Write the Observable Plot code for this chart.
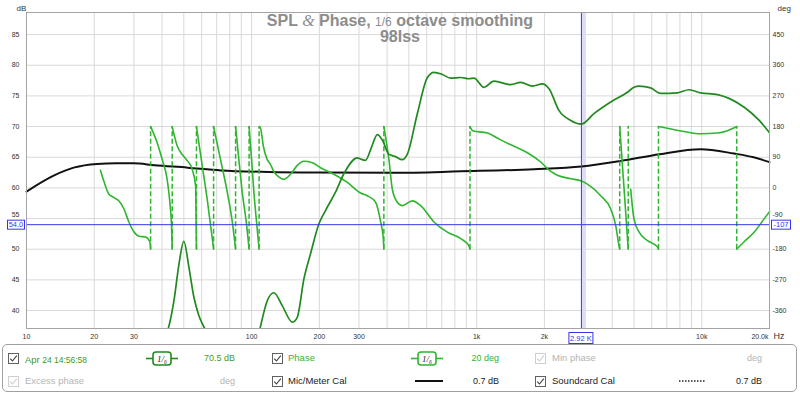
<!DOCTYPE html>
<html><head><meta charset="utf-8">
<script src="https://cdn.jsdelivr.net/npm/d3@7"></script>
<script src="https://cdn.jsdelivr.net/npm/@observablehq/plot@0.6"></script>
<style>
body{margin:0;background:#fff;font-family:"Liberation Sans",Arial,sans-serif;}
#wrap{position:relative;width:800px;height:394px;overflow:hidden;background:#fff;}
#chart{position:absolute;left:0;top:0;}
#legend{position:absolute;left:2px;top:344px;width:795px;height:48px;border:1px solid #a0a0a0;border-radius:5px;box-sizing:border-box;}
.lg{position:absolute;white-space:nowrap;line-height:12px;}
.lg svg{display:block;}
</style></head><body><div id="wrap"><div id="chart"></div><div id="legend"></div></div>
<script>
// ---------------- data ----------------
const micFreq = [10,13.2,16.2,20.6,25,30,37,52,73,120,200,430,850,1800,2920,4370,6500,9900,13900,17000,20000];
const micDb   = [59.4,62.0,63.3,63.9,64.0,64.0,63.7,63.3,62.85,62.6,62.5,62.45,62.7,63.05,63.5,64.4,65.5,66.3,65.6,65.0,64.2];

const splFreq = [41.5,42.6,45.2,47.6,50,52.7,55.4,58.3,62,63.5,85,107,108.9,117.4,125.6,136.8,151.7,159.6,170.9,182.9,199,213,236,257,295,305,321,340,362,381,407,436,467,492,545,604,646,704,766,849,925,973,1078,1194,1416,1570,1768,1959,2097,2323,2618,2920,3318,3941,4677,5000,5268,5929,6574,7805,8783,9899,11744,13222,15500,18000,20000];
const splDb   = [35.8,37.0,41.6,47.6,51.3,47.0,42.2,39.2,37.0,36.2,NaN,35.8,37.0,41.6,42.9,40.8,38.1,38.9,45.2,49.3,54.1,56.3,59.3,62.3,64.9,64.7,64.5,66.5,68.7,67.8,65.5,65.1,64.6,65.5,72.1,78.0,78.85,78.5,77.9,78.0,77.8,77.9,76.4,77.4,76.85,77.2,76.6,76.95,76.15,72.6,71.0,70.4,72.1,74.0,75.6,76.4,76.6,76.3,75.4,75.5,76.0,75.5,75.2,74.6,73.1,71.0,69.0];

const phaseFreq = [
  21.3,22.06,23.2,24.4,25.7,27.1,28.5,30.0,31.6,33.8,35.3,35.6,
  35.6,38.1,40.1,41.9,42.9,43.6,44.1,44.4,
  44.4,46.8,49.2,51.8,54.5,56.4,56.7,56.9,
  56.9,60.4,63.5,66.9,67.8,
  67.8,72.8,78,82.1,84.9,
  84.9,87.8,90.9,94.7,97.5,
  97.5,100,102.4,105.2,108,
  108,109.6,113,117.4,121,125.6,132,139.2,149,159.6,170.8,186.2,202.6,232.2,266.3,305,326.6,355.6,374.5,384.8,387,
  387,407.6,422,444,467.6,517.9,563.8,646,741,849,920,934,
  934,960,1116,1278,1466,1680,1925,2100,2283,2618,2920,3104,3556,3941,4147,4290,4321,
  4321,4515,4714,
  4714,4835,5000,5270,5720,6350,6422,
  6422,7040,8343,9899,11744,13006,14305,
  14305,15417,17079,18920,20000];
const phaseDeg = [
  52,20,-18,-28,-38,-62,-100,-129,-142,-144,-158,-180,
  180,132,83,35,-13,-62,-110,-180,
  180,122,98,80,54,6,-100,-180,
  180,64,-33,-149,-180,
  180,83,-13,-100,-180,
  180,83,-13,-100,-180,
  180,83,-13,-100,-180,
  180,175,120,83,70,48,32,25,40,66,78,74,59,40,16,-15,-23,-42,-100,-149,-180,
  180,83,-4,-42,-52,-38,-52,-100,-130,-149,-168,-180,
  180,168,161,141,122,103,76,52,37,27,20,11,-23,-62,-110,-170,-180,
  180,0,-180,
  180,-4,-91,-130,-154,-173,-180,
  180,175,165.5,159,161,168,180,
  -180,-158,-130,-91,-70];
const wrapFreq = [35.6,44.4,56.9,67.8,84.9,97.5,108,387,934,4321,4714,6422,14305];

const dbTicks = [40,45,50,55,60,65,70,75,80,85];
const degTicks = [-360,-270,-180,-90,0,90,180,270,360,450];
const freqGrid = [20,30,40,50,60,70,80,90,100,200,300,400,500,600,700,800,900,1000,2000,3000,4000,5000,6000,7000,8000,9000,10000];
const freqLabels = [10,20,30,40,50,60,70,80,100,200,300,400,500,600,800,1000,2000,4000,5000,6000,7000,8000,10000];
const cursorFreq = 2920, cursorDb = 54.0, cursorDeg = -107;

// ---------------- build ----------------
const splColor = "#21891f", phaseColor = "#2fb52f";
const degToDb = d => 60 + d / 18;
const micRows = micFreq.map((f, i) => ({f, v: micDb[i]}));
const splRows = splFreq.map((f, i) => ({f, v: splDb[i]}));
let seg = 0;
const phaseRows = phaseFreq.map((f, i) => {
  if (i > 0 && Math.abs(phaseDeg[i] - phaseDeg[i-1]) > 180) seg++;
  return {f, v: degToDb(phaseDeg[i]), seg};
});
const fmtF = d => d >= 1000 ? (d/1000) + "k" : String(d);
// tick labels next to the cursor read-outs sit a little higher (partly hidden in the original)
const nearCursor = v => Math.abs(v - cursorDb) < 2;
const leftMain = dbTicks.filter(v => !nearCursor(v)), leftNear = dbTicks.filter(nearCursor);
const rightAll = degTicks.map(degToDb);
const rightMain = rightAll.filter(v => !nearCursor(v)), rightNear = rightAll.filter(nearCursor);

const plot = Plot.plot({
  width: 800, height: 344,
  marginLeft: 26, marginRight: 31, marginTop: 12, marginBottom: 16,
  x: {type: "log", domain: [10, 20000], label: null},
  y: {domain: [37.07, 88.6], label: null},
  style: {fontFamily: "Liberation Sans, Arial, sans-serif", fontSize: "7px", color: "#333", background: "#fff", overflow: "visible"},
  marks: [
    Plot.ruleY(dbTicks, {stroke: "#d9d9d9", strokeWidth: 1}),
    Plot.ruleX(freqGrid, {stroke: "#d9d9d9", strokeWidth: 1}),
    Plot.ruleX([cursorFreq], {stroke: "#dcdcf6", strokeWidth: 4, dx: 2.5}),
    Plot.line(micRows, {x: "f", y: "v", stroke: "#111", strokeWidth: 2, curve: "monotone-x"}),
    Plot.ruleX(wrapFreq, {y1: degToDb(-180), y2: degToDb(180), stroke: phaseColor, strokeWidth: 1.5, strokeDasharray: "5,2.5"}),
    Plot.line(phaseRows, {x: "f", y: "v", z: "seg", stroke: phaseColor, strokeWidth: 1.6, curve: "monotone-x"}),
    Plot.line(splRows, {x: "f", y: "v", stroke: splColor, strokeWidth: 1.7, curve: "monotone-x", clip: true}),
    Plot.ruleX([cursorFreq], {stroke: "#3636e6", strokeWidth: 1}),
    Plot.ruleY([cursorDb], {stroke: "#3636e6", strokeWidth: 1}),
    Plot.frame({stroke: "#a4a4a4"}),
    Plot.axisY(leftMain, {anchor: "left", tickSize: 0, tickPadding: 7, tickFormat: d => d, label: null}),
    Plot.axisY(leftNear, {anchor: "left", tickSize: 0, tickPadding: 7, tickFormat: d => d, label: null, dy: -4}),
    Plot.axisY(rightMain, {anchor: "right", tickSize: 0, tickPadding: 3, tickFormat: d => Math.round((d - 60) * 18), label: null}),
    Plot.axisY(rightNear, {anchor: "right", tickSize: 0, tickPadding: 3, tickFormat: d => Math.round((d - 60) * 18), label: null, dy: -4}),
    Plot.axisX(freqLabels, {anchor: "bottom", tickSize: 0, tickPadding: 6, tickFormat: fmtF, label: null}),
    Plot.text(["20.0k"], {x: () => 20000, frameAnchor: "bottom", dy: 10, textAnchor: "end", text: d => d, dx: -1}),
    Plot.text(["Hz"], {x: () => 20000, frameAnchor: "bottom", dy: 10, textAnchor: "start", text: d => d, dx: 4, fontSize: 9}),
    Plot.text(["dB"], {frameAnchor: "top-left", dx: -10, dy: -7, text: d => d, fontSize: 8}),
    Plot.text(["deg"], {frameAnchor: "top-right", dx: 8, dy: -7, text: d => d, textAnchor: "start", fontSize: 8})
  ]
});
document.getElementById("chart").appendChild(plot);

// title and cursor readouts
const svg = d3.select(plot);
const title = svg.append("text").attr("x", 400).attr("y", 26).attr("text-anchor", "middle")
  .attr("fill", "#8c8c8c").style("font-family", "Liberation Sans, Arial, sans-serif")
  .style("font-weight", "bold").style("font-size", "16px");
title.append("tspan").text("SPL ");
title.append("tspan").style("font-family", "Liberation Serif, serif").style("font-style", "italic").style("font-weight", "normal").text("&");
title.append("tspan").text(" Phase, ");
title.append("tspan").style("font-size", "12px").style("font-weight", "normal").text("1/6");
title.append("tspan").text(" octave smoothing");
svg.append("text").attr("x", 400).attr("y", 42).attr("text-anchor", "middle").attr("fill", "#8c8c8c")
  .style("font-family", "Liberation Sans, Arial, sans-serif").style("font-weight", "bold").style("font-size", "16px").text("98lss");

const xs = plot.scale("x"), ys = plot.scale("y");
const cx = xs.apply(cursorFreq), cy = ys.apply(cursorDb);
function box(x, y, w, h, label) {
  svg.append("rect").attr("x", x).attr("y", y).attr("width", w).attr("height", h)
    .attr("fill", "#fff").attr("stroke", "#3636e6").attr("stroke-width", 1);
  svg.append("text").attr("x", x + w/2).attr("y", y + h/2 + 2.5).attr("text-anchor", "middle")
    .attr("fill", "#3636e6").style("font-size", "7.5px").style("font-family", "Liberation Sans, Arial, sans-serif").text(label);
}
box(7.5, cy - 4, 17, 9, cursorDb.toFixed(1));
box(771.5, cy - 4, 19, 9, String(cursorDeg));
box(cx - 12, 332.5, 24, 11, (cursorFreq/1000).toFixed(2) + " K");

// ---------------- legend ----------------
const W = document.getElementById("wrap");
function put(html, x, y, extra) {
  const d = document.createElement("div");
  d.className = "lg"; d.style.left = x + "px"; d.style.top = y + "px";
  if (extra) Object.assign(d.style, extra);
  d.innerHTML = html; W.appendChild(d); return d;
}
const cb = on => `<svg width="11" height="11"><rect x="0.5" y="0.5" width="10" height="10" fill="#fff" stroke="${on ? '#606060' : '#cfcfcf'}"/><path d="M2.2 5.6 L4.5 8 L8.8 2.6" fill="none" stroke="${on ? '#404040' : '#cfcfcf'}" stroke-width="1.1"/></svg>`;
const smooth = c => `<svg width="32" height="15"><line x1="0" y1="7.5" x2="7" y2="7.5" stroke="${c}" stroke-width="1.6"/><line x1="25" y1="7.5" x2="32" y2="7.5" stroke="${c}" stroke-width="1.6"/><rect x="7" y="1" width="18" height="13" rx="3" fill="#fff" stroke="${c}" stroke-width="1.6"/><text x="16" y="11" text-anchor="middle" font-size="9" font-family="Liberation Serif, serif" font-style="italic" fill="#222">1/₆</text></svg>`;
const r1 = 352, r2 = 375;
const gray = "#b4b4b4";
put(cb(true), 8, r1 + 1);
put(`<span style="font-size:9.5px">Apr</span><span style="font-size:8.5px"> 24 14:56:58</span>`, 25, r1, {color: "#3a9a2a"});
put(smooth(splColor), 146, r1 - 1);
put("70.5 dB", 0, r1, {color: "#4a9a20", fontSize: "9px", width: "235px", textAlign: "right"});
put(cb(true), 272, r1 + 1);
put("Phase", 288, r1, {color: phaseColor, fontSize: "9.5px"});
put(smooth(phaseColor), 411, r1 - 1);
put("20 deg", 0, r1, {color: phaseColor, fontSize: "9px", width: "499px", textAlign: "right"});
put(cb(false), 535, r1 + 1);
put("Min phase", 552, r1, {color: gray, fontSize: "9.5px"});
put("deg", 0, r1, {color: gray, fontSize: "9px", width: "762px", textAlign: "right"});

put(cb(false), 8, r2 + 1);
put("Excess phase", 25, r2, {color: gray, fontSize: "9.5px"});
put("deg", 0, r2, {color: gray, fontSize: "9px", width: "235px", textAlign: "right"});
put(cb(true), 272, r2 + 1);
put("Mic/Meter Cal", 288, r2, {color: "#222", fontSize: "9.5px"});
put(`<svg width="30" height="12"><line x1="1" y1="6" x2="29" y2="6" stroke="#111" stroke-width="2"/></svg>`, 414, r2);
put("0.7 dB", 0, r2, {color: "#222", fontSize: "9px", width: "499px", textAlign: "right"});
put(cb(true), 535, r2 + 1);
put("Soundcard Cal", 552, r2, {color: "#222", fontSize: "9.5px"});
put(`<svg width="30" height="12"><line x1="2" y1="6" x2="28" y2="6" stroke="#222" stroke-width="1.5" stroke-dasharray="1.5,1.5"/></svg>`, 677, r2);
put("0.7 dB", 0, r2, {color: "#222", fontSize: "9px", width: "762px", textAlign: "right"});
</script>
</body></html>
